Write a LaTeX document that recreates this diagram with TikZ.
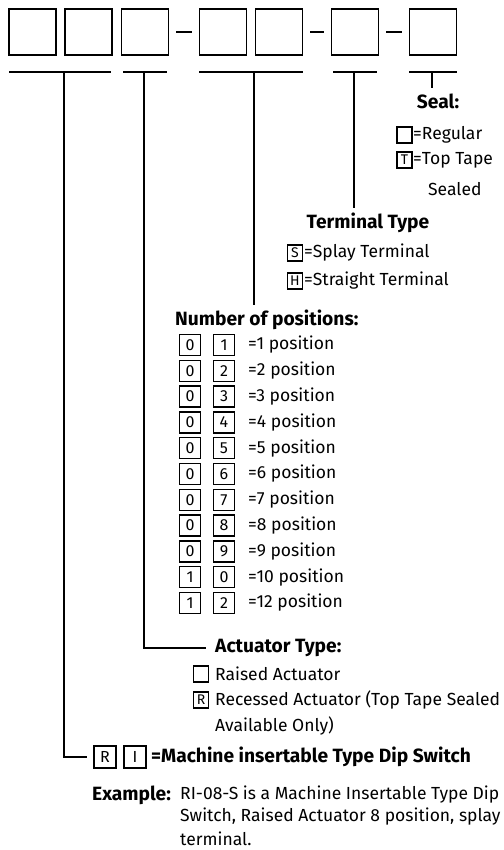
\documentclass[tikz,border=0pt]{standalone}
\usepackage{fontspec}
\setmainfont{Fira Sans}
\begin{document}
\begin{tikzpicture}[x=1pt,y=-1pt,
  bigbox/.style={draw,line width=1.8pt,minimum width=47pt,minimum height=46pt,inner sep=0pt},
  digbox/.style={draw,line width=1.5pt,minimum width=21pt,minimum height=21pt,inner sep=0pt,font=\fontsize{16}{18}\selectfont},
  legbox/.style={draw,line width=1.3pt,minimum width=15pt,minimum height=16pt,inner sep=0pt,font=\fontsize{14}{15}\selectfont},
  txt/.style={anchor=west,inner sep=0pt,font=\fontsize{17.5}{20}\selectfont},
  hd/.style={anchor=west,inner sep=0pt,font=\fontsize{19.2}{22}\selectfont\bfseries},
  ln/.style={line width=1.7pt},
  st/.style={line width=1.5pt}]
\useasboundingbox (0,0) rectangle (503,850);
% top boxes
\node[bigbox] (b1) at (32.5,32) {};
\node[bigbox] (b2) at (88.5,32) {};
\node[bigbox] (b3) at (145,32) {};
\node[bigbox] (b4) at (223,32) {};
\node[bigbox] (b5) at (279,32) {};
\node[bigbox] (b6) at (355,32) {};
\node[bigbox] (b7) at (433,32) {};
\draw[ln,shorten <=7pt,shorten >=7pt] (b3.east) -- (b4.west);
\draw[ln,shorten <=7pt,shorten >=7pt] (b5.east) -- (b6.west);
\draw[ln,shorten <=7pt,shorten >=7pt] (b6.east) -- (b7.west);
% underlines
\coordinate (u1a) at (9,72);  \coordinate (u1b) at (111,72); \coordinate (s1) at (64,72);
\coordinate (u2a) at (123,72); \coordinate (u2b) at (167,72); \coordinate (s2) at (144,72);
\coordinate (u3a) at (199,72); \coordinate (u3b) at (303,72); \coordinate (s3) at (254,72);
\coordinate (u4a) at (333,72); \coordinate (u4b) at (377,72); \coordinate (s4) at (354,72);
\coordinate (u5a) at (409,72); \coordinate (u5b) at (457,72); \coordinate (s5) at (432,72);
\draw[ln] (u1a) -- (u1b);
\draw[ln] (u2a) -- (u2b);
\draw[ln] (u3a) -- (u3b);
\draw[ln] (u4a) -- (u4b);
\draw[ln] (u5a) -- (u5b);
% Seal
\coordinate (e5) at (432,88);
\draw[st] (s5) -- (e5);
\node[hd,anchor=center] (seal) at (438,101) {Seal:};
\node[legbox] (sb1) at (404.5,135) {};
\node[txt] (sr) at (413,135) {=Regular};
\node[legbox] (sb2) at (404.5,160) {T};
\node[txt] (st) at (413,160) {=Top Tape};
\node[txt] (ss) at (428,189) {Sealed};
% Terminal
\coordinate (e4) at (354,208);
\draw[st] (s4) -- (e4);
\node[hd,anchor=center] (term) at (368,223) {Terminal Type};
\node[legbox] (tb1) at (295,253) {S};
\node[txt] (t1) at (304,253) {=Splay Terminal};
\node[legbox] (tb2) at (295,281) {H};
\node[txt] (t2) at (304,281) {=Straight Terminal};
% Number of positions
\coordinate (e3) at (254,305);
\draw[st] (s3) -- (e3);
\node[hd] (np) at (175,320) {Number of positions:};
\foreach \a/\b/\t [count=\i from 0] in {0/1/=1 position,0/2/=2 position,0/3/=3 position,0/4/=4 position,0/5/=5 position,0/6/=6 position,0/7/=7 position,0/8/=8 position,0/9/=9 position,1/0/=10 position,1/2/=12 position}{
  \node[digbox] (pa\i) at (190,345+25.8*\i) {\a};
  \node[digbox] (pb\i) at (224,345+25.8*\i) {\b};
  \node[txt] (pt\i) at (248,345+25.8*\i) {\t};
}
% Actuator
\coordinate (c2) at (144,648);
\coordinate (e2) at (206,648);
\draw[st] (s2) -- (c2) -- (e2);
\node[hd] (act) at (215,648) {Actuator Type:};
\node[legbox] (ab1) at (201,674) {};
\node[txt] (a1) at (215,674) {Raised Actuator};
\node[legbox] (ab2) at (201,700) {R};
\node[txt] (a2) at (215,700) {Recessed Actuator (Top Tape Sealed};
\node[txt] (a3) at (215,726) {Available Only)};
% Main
\coordinate (c1) at (64,757);
\coordinate (e1) at (87,757);
\draw[st] (s1) -- (c1) -- (e1);
\node[digbox,minimum width=22pt,minimum height=22pt] (rb) at (105,757) {R};
\node[digbox,minimum width=22pt,minimum height=22pt] (ib) at (135,757) {I};
\node[hd] (mach) at (151,757) {=Machine insertable Type Dip Switch};
\node[hd] (ex) at (92,795) {Example:};
\node[txt] (ex1) at (180,795) {RI-08-S is a Machine Insertable Type Dip};
\node[txt] (ex2) at (180,817) {Switch, Raised Actuator 8 position, splay};
\node[txt] (ex3) at (180,839) {terminal.};
\end{tikzpicture}
\end{document}
